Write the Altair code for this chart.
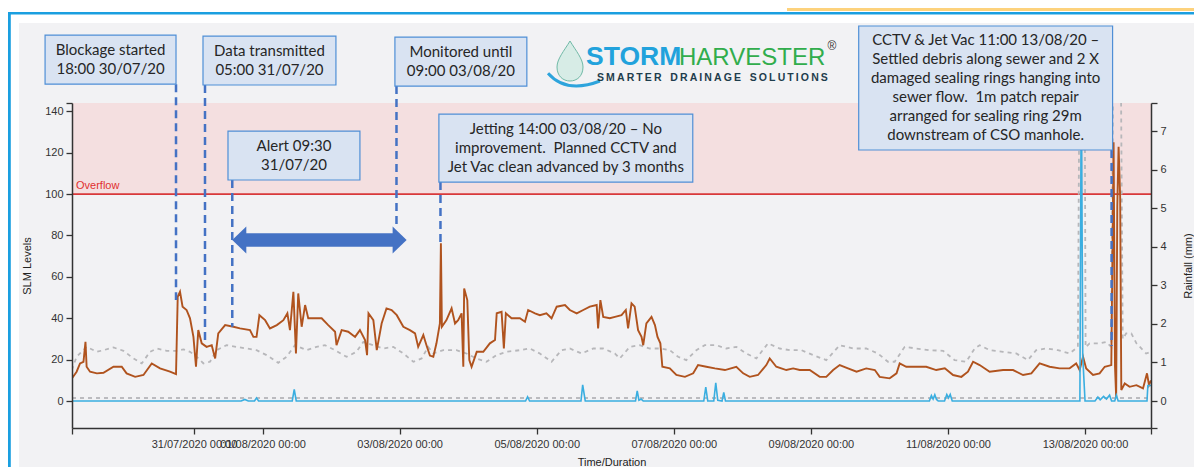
import altair as alt
import pandas as pd

START = pd.Timestamp("2020-07-29 00:00")
X_START_H = 5.28
X_END_H = 383.1

# ---- SLM level (hours since 29/07/2020 00:00, level) ----
slm_hours = [5.3, 6.9, 8.1, 9.3, 10.0, 10.4, 11.6, 14.0, 16.3, 19.8, 22.7, 24.4, 27.4, 30.3, 33.2, 36.1, 39.6, 41.7,
             42.3, 43.1, 44.0, 45.4, 46.6, 47.8, 48.7, 49.5, 50.7, 52.4, 54.2, 55.4, 56.5, 58.9, 61.8, 64.1, 67.6, 68.8,
             69.9, 70.9, 72.9, 74.6, 77.0, 79.3, 80.7, 81.6, 82.8, 83.7, 84.5, 85.7, 86.9, 88.0, 91.0, 92.7, 95.0, 97.4,
             97.9, 99.7, 102.0, 104.4, 106.1, 107.9, 108.6, 109.1, 110.8, 112.0, 113.7, 115.4, 117.2, 119.0, 121.3,
             123.6, 125.4, 126.5, 128.3, 129.4, 130.6, 131.8, 132.9, 134.1, 134.45, 134.8, 136.4, 138.2, 139.4, 140.5,
             141.7, 142.3, 142.6, 143.7, 144.4, 145.2, 147.0, 149.3, 151.6, 153.4, 154.0, 155.7, 156.5, 157.2, 159.2,
             162.1, 163.9, 165.0, 167.4, 169.1, 171.4, 173.2, 175.0, 177.9, 179.6, 182.0, 184.3, 186.6, 189.0, 189.5,
             190.3, 191.3, 193.6, 195.4, 197.7, 199.2, 200.0, 201.2, 202.3, 203.5, 204.7, 205.3, 206.4, 208.2, 209.4,
             210.3, 211.3, 212.0, 214.6, 216.9, 219.9, 222.8, 224.5, 227.4, 230.4, 233.9, 237.9, 240.3, 242.6, 245.5,
             248.4, 249.6, 251.9, 255.4, 257.8, 260.1, 263.6, 267.1, 269.4, 271.8, 274.1, 277.0, 280.0, 283.4, 286.4,
             288.1, 291.6, 294.0, 295.1, 297.4, 300.9, 304.4, 307.9, 310.9, 313.8, 316.7, 319.0, 320.8, 323.1, 326.6,
             331.3, 334.8, 338.3, 341.2, 344.1, 347.6, 351.1, 354.6, 356.9, 358.1, 359.3, 360.4, 362.8, 365.1, 366.9,
             369.2, 370.0, 370.5, 370.9, 371.3, 371.75, 372.3, 372.7, 373.9, 375.6, 378.0, 380.3, 381.7, 382.4, 383.1]
slm_level = [11.0, 14.2, 18.2, 19.0, 28.6, 16.6, 14.2, 13.4, 13.7, 16.6, 16.6, 13.4, 11.7, 12.6, 18.2, 15.8, 14.2, 13.0,
             50.4, 52.8, 45.6, 44.0, 40.0, 31.0, 16.6, 34.3, 27.9, 26.2, 27.0, 20.6, 32.7, 36.7, 35.9, 35.1, 34.3, 31.0,
             31.0, 41.5, 39.1, 35.1, 36.7, 39.1, 42.4, 34.3, 52.8, 23.0, 52.0, 35.9, 46.4, 40.0, 40.0, 40.0, 36.7, 33.5,
             27.0, 34.3, 33.5, 31.0, 34.3, 29.5, 22.2, 42.4, 39.1, 24.6, 37.5, 44.8, 44.0, 41.5, 35.9,
             34.3, 32.7, 26.2, 31.9, 27.0, 22.0, 21.4, 27.9, 37.5, 76.2, 35.9, 39.1, 44.8, 37.5, 39.1,
             42.4, 16.6, 54.4, 48.8, 19.8, 16.6, 23.8, 23.8, 27.9, 29.5, 42.4, 43.1, 25.4, 42.4, 40.0,
             40.0, 38.3, 44.0, 42.4, 41.5, 42.4, 40.0, 45.6, 46.4, 44.0, 42.4, 44.0, 45.6, 46.4, 35.1,
             48.8, 40.7, 40.0, 40.7, 41.5, 44.0, 35.1, 47.2, 45.6, 34.3, 31.0, 27.0, 37.5, 40.7, 36.7,
             31.0, 27.9, 16.6, 15.8, 12.6, 11.7, 13.4, 17.4, 16.6, 15.8, 15.0, 16.6, 13.4, 11.7, 12.6,
             17.4, 20.6, 16.6, 15.0, 15.8, 15.0, 15.0, 11.7, 11.7, 15.0, 17.4, 15.8, 14.2, 15.8, 15.0,
             11.7, 11.0, 13.4, 18.2, 16.6, 16.6, 16.6, 15.0, 15.8, 12.6, 11.7, 14.2, 19.0, 17.4, 14.2,
             15.0, 15.0, 12.6, 13.4, 18.2, 16.6, 15.8, 15.8, 18.2, 15.0, 21.4, 15.8, 12.6, 13.4, 16.6,
             17.4, 125.0, 16.6, 2.0, 93.9, 122.9, 98.7, 5.3, 8.5, 6.9, 7.7, 6.1, 13.4, 7.7, 10.0]

# ---- expected level (grey dotted) ----
exp_hours = [5.2, 6.9, 10.4, 14.0, 16.3, 19.8, 23.3, 26.8, 29.7, 32.6, 35.0, 38.4, 41.9, 44.3, 46.6, 48.9, 51.3, 53.6,
             55.9, 59.4, 62.9, 66.4, 69.9, 73.4, 77.5, 80.4, 83.35, 87.4, 90.9, 93.85, 97.35, 101.4, 104.9, 107.3,
             110.8, 114.3, 117.8, 121.3, 124.8, 127.7, 130.0, 131.8, 135.3, 139.9, 143.4, 146.9, 150.4, 153.9, 157.4,
             162.1, 165.6, 169.1, 173.2, 176.7, 179.6, 183.7, 187.8, 191.3, 195.35, 197.1, 200.6, 204.1, 207.6, 211.1,
             214.6, 217.5, 220.4, 223.9, 226.85, 230.9, 234.4, 237.9, 241.4, 244.9, 249.0, 253.1, 256.6, 260.7, 264.8,
             269.4, 274.1, 278.8, 283.4, 287.5, 291.0, 293.35, 296.85, 300.9, 305.6, 310.3, 314.35, 318.4, 321.35,
             323.1, 326.6, 331.3, 335.9, 340.0, 342.9, 346.4, 350.5, 354.6, 357.5, 358.0, 359.9, 360.2, 361.6, 365.1,
             367.4, 369.2, 369.8, 372.6, 373.2, 374.4, 376.2, 378.0, 381.4, 383.1]
exp_level = [15.0, 21.4, 26.2, 23.8, 24.6, 25.9, 24.3, 20.6, 18.2, 23.8, 25.4, 24.3, 24.3, 25.0, 23.8, 21.4, 18.2, 19.0,
             24.6, 27.0, 26.2, 25.4, 24.6, 22.2, 18.5, 21.4, 27.0, 24.6, 26.2, 27.0, 24.6, 21.4, 23.8, 28.6,
             27.0, 25.4, 26.2, 23.0, 19.0, 20.6, 26.2, 23.0, 24.6, 24.6, 23.0, 20.6, 19.0, 22.2, 23.8,
             24.6, 25.4, 23.0, 19.0, 24.6, 25.4, 23.0, 25.4, 25.4, 23.0, 20.6, 26.2, 27.0, 25.4, 25.4,
             24.6, 21.4, 19.8, 24.6, 27.0, 27.0, 25.4, 26.2, 23.0, 20.6, 27.9, 25.4, 24.6, 24.6, 22.2,
             19.8, 27.0, 25.4, 25.4, 23.0, 19.0, 19.0, 26.2, 25.4, 24.6, 24.3, 19.8, 19.0, 25.4,
             27.0, 24.6, 23.8, 23.0, 19.8, 24.6, 25.4, 24.6, 23.0, 26.2, 150.0, 150.0, 26.0, 27.9, 27.9,
             28.6, 26.2, 150.0, 150.0, 30.0, 32.7, 32.7, 27.9, 23.0, 23.8]

# ---- expected rainfall baseline (grey dotted, near zero) ----
base_hours = [5.28, 383.1]
base_level = [1.5, 1.5]

# ---- rainfall (mm) ----
rain_hours = [5.3, 64.5, 65.8, 67.0, 69.2, 69.9, 70.6, 82.4, 83.1, 83.8, 164.1, 164.8, 165.5, 183.5, 184.1, 185.0,
              202.6, 203.2, 203.8, 204.6, 205.3, 226.5, 227.2, 227.9, 230.0, 230.7, 231.4, 232.9, 233.5, 234.1,
              305.5, 306.2, 306.8, 307.4, 308.0, 308.6, 310.8, 311.6, 312.2, 312.8, 313.5, 358.2, 358.7, 359.2,
              360.0, 363.5, 364.5, 365.3, 366.5, 367.5, 368.6, 369.3, 370.4, 371.0, 371.6, 381.7, 382.0, 383.1]
rain_mm = [0, 0, 0.04, 0, 0, 0.08, 0, 0, 0.3, 0, 0, 0.11, 0, 0, 0.42, 0,
           0, 0.26, 0.02, 0.05, 0, 0, 0.36, 0, 0, 0.47, 0.02, 0, 0.22, 0,
           0, 0.14, 0.05, 0.16, 0.04, 0, 0, 0.17, 0.08, 0.17, 0, 0, 8.5, 1.15,
           0, 0, 0.1, 0.03, 0.12, 0.05, 0.15, 0, 0, 0.15, 0, 0, 0.4, 0.4]

tick_days = ["2020-07-31", "2020-08-01", "2020-08-03", "2020-08-05", "2020-08-07",
             "2020-08-09", "2020-08-11", "2020-08-13"]
left_ticks = [0, 20, 40, 60, 80, 100, 120, 140]
right_ticks = [0, 1, 2, 3, 4, 5, 6, 7]
overflow_level = 100

# ---- annotations ----
box_start = [-4.15, 51.15, 59.9, 118.35, 133.75, 280.75]
box_end = [41.7, 97.7, 106.1, 164.55, 222.65, 369.65]
box_top = [176.8, 176.3, 130.4, 175.8, 138.6, 181.2]
box_bottom = [153.1, 152.7, 106.8, 152.2, 105.8, 121.3]
box_text = [
    "Blockage started\n18:00 30/07/20",
    "Data transmitted\n05:00 31/07/20",
    "Alert 09:30\n31/07/20",
    "Monitored until\n09:00 03/08/20",
    "Jetting 14:00 03/08/20 \u2013 No\nimprovement.\u00a0 Planned CCTV and\nJet Vac clean advanced by 3 months",
    "CCTV & Jet Vac 11:00 13/08/20 \u2013\nSettled debris along sewer and 2 X\ndamaged sealing rings hanging into\n"
    "sewer flow.\u00a0 1m patch repair\narranged for sealing ring 29m\ndownstream of CSO manhole.",
]
lead_hours = [41.7, 51.85, 61.4, 118.9, 134.3, 369.3]
lead_top = [153.1, 152.7, 106.8, 152.2, 105.8, 121.3]
lead_bottom = [48.8, 29.5, 35.9, 84.2, 75.4, 26.6]
arrow_tips = [61.4, 122.45]
arrow_level = 77.8

LINE_H = 19          # px between text lines in the boxes
PX_PER_UNIT = 325 / 157.0


def stamp(h):
    return START + pd.Timedelta(hours=h)


def dt(ts):
    return alt.DateTime(year=ts.year, month=ts.month, date=ts.day,
                        hours=ts.hour, minutes=ts.minute, seconds=ts.second)


xs = alt.Scale(domain=[dt(stamp(X_START_H)), dt(stamp(X_END_H))])
yl = alt.Scale(domain=[-13, 144], nice=False, zero=False)
yr = alt.Scale(domain=[-0.7, 7.726], nice=False, zero=False)

FONT = "Liberation Sans"
AX = dict(domainColor="#333333", tickColor="#333333", domainWidth=1.5, tickWidth=1.3,
          labelFont=FONT, labelFontSize=11, labelColor="#333333", titleFont=FONT,
          titleFontSize=11, titleFontWeight="normal", titleColor="#222222", grid=False, zindex=1)

x_vals = [dt(stamp(X_START_H))] + [dt(pd.Timestamp(d)) for d in tick_days] + [dt(stamp(X_END_H))]
x_axis = alt.Axis(values=x_vals, labelOverlap=False, labelFlush=False, tickSize=6, labelPadding=4,
                  labelExpr="hours(datum.value) == 0 && minutes(datum.value) == 0 ? "
                            "timeFormat(datum.value, '%d/%m/%Y %H:%M') : ''",
                  title="Time/Duration", titlePadding=7, **AX)
yl_axis = alt.Axis(values=left_ticks + [144], labelExpr="datum.value > 141 ? '' : datum.label",
                   tickSize=6, labelPadding=3, title="SLM Levels", titlePadding=12, **AX)
yr_axis = alt.Axis(orient="right", values=[-0.7] + right_ticks + [7.726],
                   labelExpr="datum.value >= 0 && datum.value == floor(datum.value) ? datum.label : ''",
                   tickSize=6, labelPadding=3, title="Rainfall (mm)", titleAngle=270,
                   titleBaseline="top", titlePadding=16, **AX)


def X(f, axis=None):
    if axis is None:
        return alt.X(f"{f}:T", scale=xs)
    return alt.X(f"{f}:T", scale=xs, axis=axis)


def YL(f, axis=None):
    return alt.Y(f"{f}:Q", scale=yl, axis=axis, title=None)


def frame(hours, **cols):
    d = {"t": [stamp(h) for h in hours]}
    d.update(cols)
    return pd.DataFrame(d)


dummy = pd.DataFrame({"d": [0]})
OX, OY = 72, 103


def prect(x0, y0, x1, y1, color):
    return alt.Chart(dummy).mark_rect(color=color).encode(
        x=alt.value(x0 - OX), x2=alt.value(x1 - OX), y=alt.value(y0 - OY), y2=alt.value(y1 - OY))


def ptext(x, y, s, **kw):
    return alt.Chart(dummy).mark_text(**kw).encode(
        x=alt.value(x - OX), y=alt.value(y - OY), text=alt.value(s))


# decorations (slide frame); chart background is the grey panel colour
white_top = prect(8, 8, 1200, 23, "#ffffff")
white_left = prect(8, 8, 19, 470, "#ffffff")
frame_top = prect(8, 12, 1200, 14.5, "#1a9fe0")
frame_left = prect(8, 12, 10.8, 470, "#1a9fe0")
yellow = prect(787, 8, 1200, 11, "#fdd27c")

band_df = pd.DataFrame({"v": [overflow_level], "v2": [144]})
band = alt.Chart(band_df).mark_rect(color="#f4dfe0").encode(
    y=YL("v"), y2=alt.Y2("v2"))
red_rule = alt.Chart(band_df).mark_rule(color="#d9383a", strokeWidth=1.6).encode(y=YL("v"))
overflow_txt = alt.Chart(band_df).mark_text(
    text="Overflow", color="#e0302f", font=FONT, fontSize=11, align="left", baseline="bottom", dy=-3
).encode(x=alt.value(4), y=YL("v"))

# the first layer with a temporal x field carries the shared x axis
expected = alt.Chart(frame(exp_hours, v=exp_level)).mark_line(
    clip=True, color="#b7b7ba", strokeWidth=1.8, strokeDash=[4, 4]).encode(x=X("t", x_axis), y=YL("v"))
baseline = alt.Chart(frame(base_hours, v=base_level)).mark_line(
    clip=True, color="#a9a9ad", strokeWidth=1.3, strokeDash=[4, 4]).encode(x=X("t"), y=YL("v"))
slm = alt.Chart(frame(slm_hours, v=slm_level)).mark_line(
    clip=True, color="#b0531e", strokeWidth=1.9).encode(x=X("t"), y=YL("v", yl_axis))
rain = alt.Chart(frame(rain_hours, r=rain_mm)).mark_line(
    clip=True, color="#3aaee0", strokeWidth=1.6).encode(
    x=X("t"), y=alt.Y("r:Q", scale=yr, axis=yr_axis, title=None))

lead_df = frame(lead_hours, top=lead_top, bot=lead_bottom)
leaders = alt.Chart(lead_df).mark_rule(color="#4472c4", strokeWidth=2.5, strokeDash=[8, 5]).encode(
    x=X("t"), y=YL("top"), y2=alt.Y2("bot"))

# first text line position so that the block is centred in its box
first_line = [(a + b) / 2 + (s.count("\n") * LINE_H / 2) / PX_PER_UNIT
              for a, b, s in zip(box_top, box_bottom, box_text)]
box_df = pd.DataFrame({
    "t": [stamp(h) for h in box_start], "t1": [stamp(h) for h in box_end],
    "tc": [stamp((a + b) / 2) for a, b in zip(box_start, box_end)],
    "top": box_top, "bot": box_bottom, "vc": first_line, "label": box_text,
})
boxes = alt.Chart(box_df).mark_rect(fill="#d9e3f2", stroke="#4f8fd6", strokeWidth=1.2).encode(
    x=X("t"), x2=alt.X2("t1"), y=YL("top"), y2=alt.Y2("bot"))
box_txt = alt.Chart(box_df).mark_text(
    lineBreak="\n", font="Lato", fontSize=15, lineHeight=LINE_H, color="#262626",
    align="center", baseline="middle").encode(x=X("tc"), y=YL("vc"), text="label:N")

# double arrow
head_h = 4.9
shaft_df = pd.DataFrame({"t": [stamp(arrow_tips[0] + head_h * 0.9)], "t1": [stamp(arrow_tips[1] - head_h * 0.9)],
                         "v0": [arrow_level - 3.3], "v1": [arrow_level + 3.3]})
shaft = alt.Chart(shaft_df).mark_rect(color="#4472c4").encode(
    x=X("t"), x2=alt.X2("t1"), y=YL("v0"), y2=alt.Y2("v1"))
lhead = alt.Chart(frame([arrow_tips[0] + head_h / 2], v=[arrow_level])).mark_point(
    shape="M-0.52,0 L0.52,-1 L0.52,1 Z", size=729, filled=True, opacity=1, color="#4472c4"
).encode(x=X("t"), y=YL("v"))
rhead = alt.Chart(frame([arrow_tips[1] - head_h / 2], v=[arrow_level])).mark_point(
    shape="M0.52,0 L-0.52,-1 L-0.52,1 Z", size=729, filled=True, opacity=1, color="#4472c4"
).encode(x=X("t"), y=YL("v"))

# logo
drop = alt.Chart(dummy).mark_point(
    shape="M0,-1 C0.3,-0.5 0.65,-0.1 0.65,0.3 C0.65,0.75 0.35,1 0,1 C-0.35,1 -0.65,0.75 -0.65,0.3 "
          "C-0.65,-0.1 -0.3,-0.5 0,-1 Z",
    size=1600, filled=True, opacity=1, fill="#d7ece6", stroke="#6fb9a6", strokeWidth=1
).encode(x=alt.value(570 - OX), y=alt.value(61 - OY))
swoosh = alt.Chart(dummy).mark_point(
    shape="M-1,-0.3 Q-0.3,0.5 1,0", size=2700, filled=False, opacity=1, stroke="#2da4dc", strokeWidth=3
).encode(x=alt.value(574 - OX), y=alt.value(81 - OY))
storm = ptext(586, 65, "STORM", font=FONT, fontSize=26.5, fontWeight="bold", color="#22a2dc",
              align="left", baseline="alphabetic")
harv = ptext(679, 65, "HARVESTER", font=FONT, fontSize=24, color="#31ad4c",
             align="left", baseline="alphabetic")
reg = ptext(832, 46, "\u00ae", font=FONT, fontSize=12, color="#333333", align="center", baseline="middle")
tsp = "\u2009"
sub = "\u00a0\u00a0\u00a0".join(tsp.join(list(w)) for w in ["SMARTER", "DRAINAGE", "SOLUTIONS"])
subt = ptext(597, 81, sub, font=FONT, fontSize=10.5, fontWeight="bold", color="#1e3d4c",
             align="left", baseline="alphabetic")

chart = alt.layer(
    white_top, white_left, frame_top, frame_left, yellow,
    band, red_rule, overflow_txt,
    expected, baseline, slm, rain,
    leaders, boxes, box_txt, shaft, lhead, rhead,
    drop, swoosh, storm, harv, reg, subt,
).resolve_scale(y="independent").properties(
    width=1079, height=325,
    autosize=alt.AutoSizeParams(type="none"),
    padding={"left": 64, "top": 95, "right": 43, "bottom": 39},
    background="#f2f2f4",
).configure_view(stroke=None)

chart.save("out.html", embed_options={"renderer": "svg", "actions": False})
